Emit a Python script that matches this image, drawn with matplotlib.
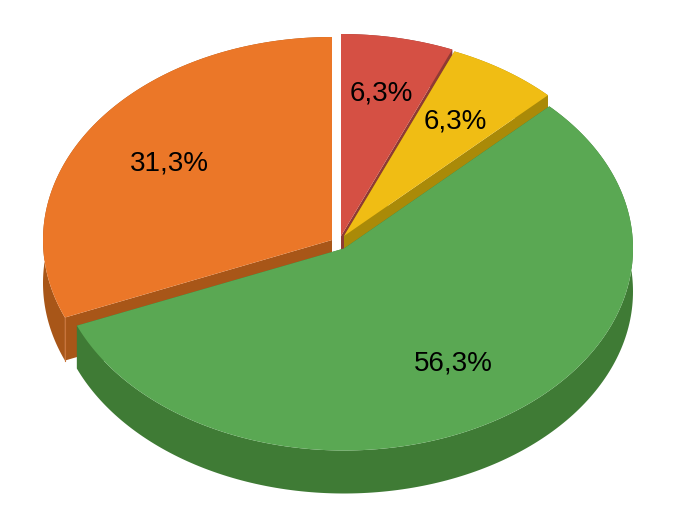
import numpy as np
import matplotlib
matplotlib.use('Agg')
import matplotlib.pyplot as plt
from matplotlib.patches import Polygon

plt.rcParams['font.family'] = ['Liberation Sans', 'DejaVu Sans']

# slices, clockwise from 12 o'clock
shares = [6.3, 6.3, 56.3, 31.3]
top_colors = ['#D55044', '#F0BD14', '#5AA853', '#EB7728']
side_colors = ['#8F3A34', '#AA8A08', '#3F7B35', '#A85618']

# centre of each slice in pixels (the slices are pulled apart a little)
centers = [(341, 236), (344, 236), (344, 248.5), (332, 240)]
radii = [(289, 202), (287, 200), (289, 202), (289, 203)]
label_pos = [(381, 94), (455, 122), (453, 364), (169, 164)]
depth = 43

# draw order, back pieces first
order = [3, 0, 1, 2]

edges = np.cumsum([0] + shares) / sum(shares) * 360


def rim(i, n=200):
    th = np.radians(np.linspace(edges[i], edges[i + 1], n))
    cx, cy = centers[i]
    rx, ry = radii[i]
    return np.column_stack([cx + rx * np.sin(th), cy - ry * np.cos(th)])


def drop(pts):
    return pts + np.array([0, depth])


fig = plt.figure(figsize=(6.81, 5.28), dpi=100)
ax = fig.add_axes([0, 0, 1, 1])
ax.set_xlim(0, 681)
ax.set_ylim(528, 0)
ax.axis('off')

for z, i in enumerate(order):
    c = np.array([centers[i]], dtype=float)
    pts = rim(i)
    # outer wall
    wall = np.vstack([pts, drop(pts)[::-1]])
    ax.add_patch(Polygon(wall, closed=True, fc=side_colors[i], ec='none', zorder=z * 3 + 1))
    # cut faces at both ends of the slice
    for end in (pts[:1], pts[-1:]):
        face = np.vstack([c, end, drop(end), drop(c)])
        ax.add_patch(Polygon(face, closed=True, fc=side_colors[i], ec='none', zorder=z * 3 + 2))
    # top surface
    top = np.vstack([c, pts])
    ax.add_patch(Polygon(top, closed=True, fc=top_colors[i], ec='none', zorder=z * 3 + 3))

# light seam where the orange wall meets its cut face
seam = rim(3)[0]
ax.plot([seam[0], seam[0]], [seam[1], seam[1] + depth], color='#C9743A', lw=0.8, zorder=3)

for s, (x, y) in zip(shares, label_pos):
    ax.text(x, y, f"{s:.1f}%".replace('.', ','), ha='center', va='center',
            fontsize=20, color='black', zorder=20)

fig.savefig('out.png', dpi=100)
